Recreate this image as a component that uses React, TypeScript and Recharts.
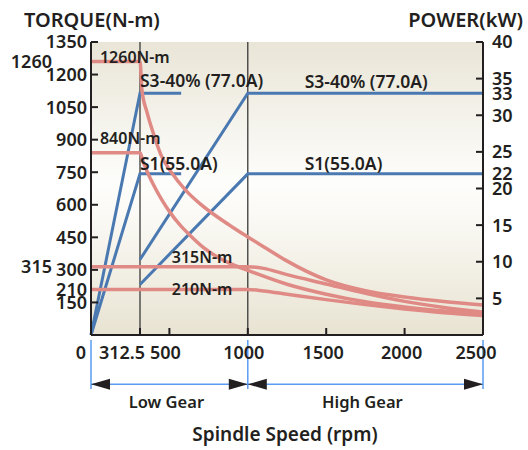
import { LineChart, Line, XAxis, YAxis, CartesianGrid, ReferenceLine, ReferenceDot } from 'recharts'

const FONT = '"Noto Sans", "DejaVu Sans", sans-serif'
const INK = '#231f20'
const RED = '#e08a85'
const BLUE = '#4a79b1'
const GUIDE = '#5a9cf2'

// torque curves (N-m)
const lowS3Rpm = [0, 312.5, 325, 357, 395, 446, 517, 600, 700, 800, 900, 1000, 1100, 1240, 1500, 1750, 2000, 2250, 2500]
const lowS3Torque = [1260, 1260, 1129, 1027, 935, 830, 745, 670, 602, 547, 498, 452, 407, 345, 254, 204, 175, 154, 138]

const lowS1Rpm = [0, 312.5, 332, 360, 400, 450, 504, 570, 631, 714, 800, 886, 1000, 1250, 1500, 1750, 2000, 2250, 2500]
const lowS1Torque = [840, 840, 800, 750, 690, 625, 565, 505, 460, 405, 362, 330, 298, 234, 188, 153, 129, 111, 97]

const highS3Rpm = [0, 1000, 1100, 1250, 1500, 1750, 2000, 2250, 2500]
const highS3Torque = [315, 315, 307, 278, 235, 192, 155, 127, 106]

const highS1Rpm = [0, 1000, 1100, 1250, 1500, 1750, 2000, 2250, 2500]
const highS1Torque = [210, 210, 203, 188, 163, 140, 120, 103, 90]

// power curves (kW)
const lowPowerRpm = [0, 312.5, 575]
const lowS3Power = [0, 33, 33]
const lowS1Power = [0, 22, 22]
const highPowerRpm = [312.5, 1000, 2500]
const highS3Power = [10.3, 33, 33]
const highS1Power = [6.9, 22, 22]

const speedTicks = [0, 312.5, 500, 1000, 1500, 2000, 2500]
const torqueTicks = [150, 210, 300, 450, 600, 750, 900, 1050, 1200, 1350, 1260, 315]
const powerTicks = [5, 10, 15, 20, 22, 25, 30, 33, 35, 40]

const zip = (rpm: number[], vals: number[]) => rpm.map((r, i) => ({ rpm: r, v: vals[i] }))

const txt = { fontFamily: FONT, fill: INK, fontWeight: 600 }

function TorqueTick(props: any) {
  const { x, y, payload } = props
  const v = payload.value
  const outer = v === 1260 || v === 315
  const bare = outer || v === 210
  return (
    <g>
      {!bare && <line x1={x} x2={x + 7} y1={y} y2={y} stroke={INK} strokeWidth={2} />}
      <text x={outer ? x - 39 : x - 4} y={y} dy="0.36em" textAnchor="end" fontSize={18} {...txt}>
        {v}
      </text>
    </g>
  )
}

function PowerTick(props: any) {
  const { x, y, payload } = props
  const v = payload.value
  const bare = v === 22 || v === 33
  return (
    <g>
      {!bare && <line x1={x - 7} x2={x} y1={y} y2={y} stroke={INK} strokeWidth={2} />}
      <text x={x + 9} y={y} dy="0.36em" textAnchor="start" fontSize={18} {...txt}>
        {v}
      </text>
    </g>
  )
}

const speedShift: Record<string, number> = { '0': -10, '312.5': -18, '500': -4, '1000': -4, '1500': -3, '2000': -3, '2500': -7 }

function SpeedTick(props: any) {
  const { x, y, payload } = props
  const v = payload.value
  const edge = v === 0 || v === 2500
  return (
    <g>
      {!edge && <line x1={x} x2={x} y1={y - 7} y2={y} stroke={INK} strokeWidth={2} />}
      <text x={x + (speedShift[String(v)] ?? 0)} y={y + 24} textAnchor="middle" fontSize={18} {...txt}>
        {v}
      </text>
    </g>
  )
}

const note = (text: string, size = 16) => (p: any) => (
  <text x={p.cx} y={p.cy} fontSize={size} {...txt}>
    {text}
  </text>
)

const bracket = (label: string) => (p: any) => {
  const { x1, y1, x2 } = p
  return (
    <g>
      <line x1={x1} x2={x2} y1={y1} y2={y1} stroke={GUIDE} strokeWidth={1.5} />
      <polygon points={`${x1},${y1} ${x1 + 19},${y1 - 5.5} ${x1 + 19},${y1 + 5.5}`} fill={INK} />
      <polygon points={`${x2},${y1} ${x2 - 19},${y1 - 5.5} ${x2 - 19},${y1 + 5.5}`} fill={INK} />
      <text x={(x1 + x2) / 2 - 3} y={y1 + 24} textAnchor="middle" fontSize={16.5} {...txt}>
        {label}
      </text>
    </g>
  )
}

export default function App() {
  return (
    <div style={{ position: 'absolute', left: 0, top: 0, background: '#fff' }}>
      <LineChart width={528} height={450} margin={{ top: 42, right: 5, bottom: 85, left: 31 }}>
        <defs>
          <linearGradient id="plotBg" x1="0" y1="0" x2="0" y2="1">
            <stop offset="0%" stopColor="#e9e5d7" />
            <stop offset="48%" stopColor="#fdfdfb" />
            <stop offset="58%" stopColor="#fbfaf6" />
            <stop offset="100%" stopColor="#e8e3d2" />
          </linearGradient>
        </defs>
        <CartesianGrid horizontal={false} vertical={false} fill="url(#plotBg)" fillOpacity={1} />
        <XAxis
          dataKey="rpm"
          type="number"
          domain={[0, 2500]}
          ticks={speedTicks}
          interval={0}
          tickSize={0}
          tickMargin={0}
          height={30}
          axisLine={{ stroke: INK, strokeWidth: 2 }}
          tick={<SpeedTick />}
          label={{
            content: (p: any) => (
              <text x={p.viewBox.x + p.viewBox.width / 2 - 2} y={p.viewBox.y + 106} textAnchor="middle" fontSize={19} {...txt}>
                Spindle Speed (rpm)
              </text>
            ),
          }}
        />
        <YAxis
          yAxisId="torque"
          orientation="left"
          type="number"
          domain={[0, 1350]}
          ticks={torqueTicks}
          interval={0}
          tickSize={0}
          tickMargin={0}
          width={60}
          axisLine={{ stroke: INK, strokeWidth: 2 }}
          tick={<TorqueTick />}
          label={{
            content: (p: any) => (
              <text x={p.viewBox.x - 7} y={p.viewBox.y - 15} textAnchor="start" fontSize={20} {...txt}>
                TORQUE(N-m)
              </text>
            ),
          }}
        />
        <YAxis
          yAxisId="power"
          orientation="right"
          type="number"
          domain={[0, 40]}
          ticks={powerTicks}
          interval={0}
          tickSize={0}
          tickMargin={0}
          width={40}
          axisLine={{ stroke: INK, strokeWidth: 2 }}
          tick={<PowerTick />}
          label={{
            content: (p: any) => (
              <text x={p.viewBox.x + p.viewBox.width} y={p.viewBox.y - 15} textAnchor="end" fontSize={20} {...txt}>
                POWER(kW)
              </text>
            ),
          }}
        />

        <ReferenceLine yAxisId="torque" x={312.5} stroke="#2a2a2a" strokeWidth={1.2} />
        <ReferenceLine yAxisId="torque" x={1000} stroke="#2a2a2a" strokeWidth={1.2} />

        {/* power, blue */}
        <Line yAxisId="power" data={zip(lowPowerRpm, lowS3Power)} dataKey="v" type="linear" stroke={BLUE} strokeWidth={3} dot={false} activeDot={false} isAnimationActive={false} />
        <Line yAxisId="power" data={zip(lowPowerRpm, lowS1Power)} dataKey="v" type="linear" stroke={BLUE} strokeWidth={3} dot={false} activeDot={false} isAnimationActive={false} />
        <Line yAxisId="power" data={zip(highPowerRpm, highS3Power)} dataKey="v" type="linear" stroke={BLUE} strokeWidth={3} dot={false} activeDot={false} isAnimationActive={false} />
        <Line yAxisId="power" data={zip(highPowerRpm, highS1Power)} dataKey="v" type="linear" stroke={BLUE} strokeWidth={3} dot={false} activeDot={false} isAnimationActive={false} />

        {/* torque, red */}
        <Line yAxisId="torque" data={zip(lowS3Rpm, lowS3Torque)} dataKey="v" type="monotone" stroke={RED} strokeWidth={3.5} dot={false} activeDot={false} isAnimationActive={false} />
        <Line yAxisId="torque" data={zip(lowS1Rpm, lowS1Torque)} dataKey="v" type="monotone" stroke={RED} strokeWidth={3.5} dot={false} activeDot={false} isAnimationActive={false} />
        <Line yAxisId="torque" data={zip(highS3Rpm, highS3Torque)} dataKey="v" type="monotone" stroke={RED} strokeWidth={3.5} dot={false} activeDot={false} isAnimationActive={false} />
        <Line yAxisId="torque" data={zip(highS1Rpm, highS1Torque)} dataKey="v" type="monotone" stroke={RED} strokeWidth={3.5} dot={false} activeDot={false} isAnimationActive={false} />

        {/* curve labels */}
        <ReferenceDot yAxisId="torque" x={57} y={1253} ifOverflow="visible" shape={note('1260N-m')} />
        <ReferenceDot yAxisId="torque" x={57} y={880} ifOverflow="visible" shape={note('840N-m')} />
        <ReferenceDot yAxisId="torque" x={515} y={332} ifOverflow="visible" shape={note('315N-m')} />
        <ReferenceDot yAxisId="torque" x={515} y={184} ifOverflow="visible" shape={note('210N-m')} />
        <ReferenceDot yAxisId="power" x={312.5} y={33.86} ifOverflow="visible" shape={note('S3-40% (77.0A)', 17.5)} />
        <ReferenceDot yAxisId="power" x={312.5} y={22.5} ifOverflow="visible" shape={note('S1(55.0A)', 17.5)} />
        <ReferenceDot yAxisId="power" x={1363} y={33.7} ifOverflow="visible" shape={note('S3-40% (77.0A)', 17.5)} />
        <ReferenceDot yAxisId="power" x={1363} y={22.5} ifOverflow="visible" shape={note('S1(55.0A)', 17.5)} />

        {/* gear ranges below the axis */}
        <ReferenceLine yAxisId="torque" ifOverflow="visible" segment={[{ x: 0, y: -23 }, { x: 0, y: -249 }]} stroke={GUIDE} strokeWidth={1.5} />
        <ReferenceLine yAxisId="torque" ifOverflow="visible" segment={[{ x: 1000, y: -23 }, { x: 1000, y: -249 }]} stroke={GUIDE} strokeWidth={1.5} />
        <ReferenceLine yAxisId="torque" ifOverflow="visible" segment={[{ x: 2500, y: -23 }, { x: 2500, y: -249 }]} stroke={GUIDE} strokeWidth={1.5} />
        <ReferenceLine yAxisId="torque" ifOverflow="visible" segment={[{ x: 0, y: -227 }, { x: 1000, y: -227 }]} shape={bracket('Low Gear')} />
        <ReferenceLine yAxisId="torque" ifOverflow="visible" segment={[{ x: 1000, y: -227 }, { x: 2500, y: -227 }]} shape={bracket('High Gear')} />
      </LineChart>
    </div>
  )
}
